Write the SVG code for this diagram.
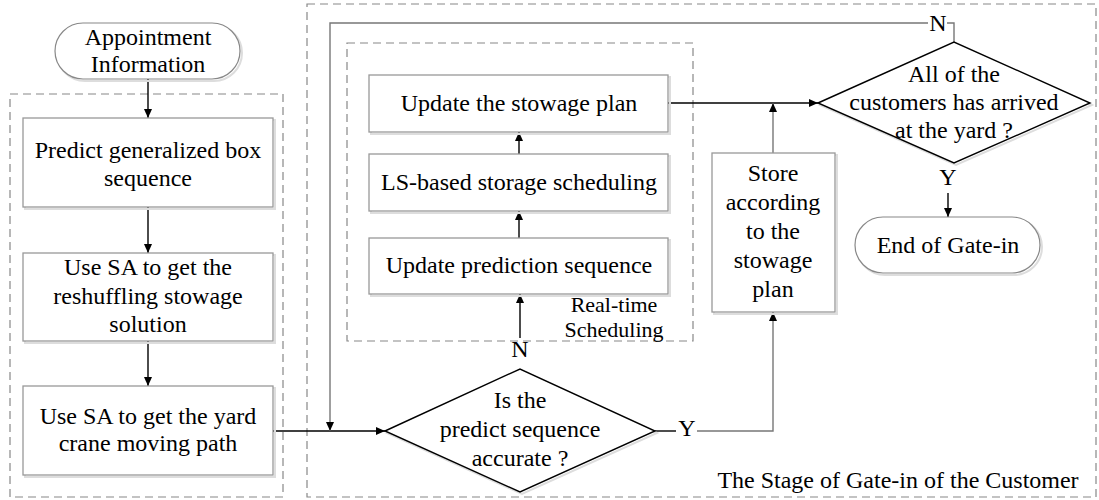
<svg xmlns="http://www.w3.org/2000/svg" width="1099" height="500" viewBox="0 0 1099 500">
<defs>
<marker id="ah" markerWidth="10" markerHeight="10" refX="9" refY="5" orient="auto" markerUnits="userSpaceOnUse">
<path d="M0,1 L9,5 L0,9 Z" fill="#000"/>
</marker>
</defs>
<style>
text{font-family:"Liberation Serif","Times New Roman",serif;font-size:24px;fill:#000;text-anchor:middle}
.box{fill:#fff;stroke:#999;stroke-width:1.3}
.term{fill:#fff;stroke:#888;stroke-width:1.2}
.dia{fill:#fff;stroke:#000;stroke-width:1.4}
.shd{fill:none;stroke:#ddd;stroke-width:2}
.dash{fill:none;stroke:#888;stroke-width:1.2;stroke-dasharray:8,5}
.c{fill:none;stroke:#000;stroke-width:1.4}
.g{fill:none;stroke:#777;stroke-width:1.4}
.sm{font-size:22px}
</style>
<g id="groups">
<rect class="dash" x="10" y="94" width="273" height="403"/>
<rect class="dash" x="307" y="4" width="789" height="493"/>
<rect class="dash" x="347" y="43" width="346" height="298"/>
</g>
<g id="connectors">
<line class="c" x1="148" y1="79" x2="148" y2="118" marker-end="url(#ah)"/>
<line class="c" x1="148" y1="207" x2="148" y2="253" marker-end="url(#ah)"/>
<line class="c" x1="148" y1="341" x2="148" y2="386" marker-end="url(#ah)"/>
<line class="c" x1="273" y1="431" x2="385" y2="431" marker-end="url(#ah)"/>
<path class="g" d="M954,42 V23 H947"/>
<path class="g" d="M928,23 H330 V431" marker-end="url(#ah)"/>
<line class="c" x1="520" y1="338" x2="520" y2="294" marker-end="url(#ah)"/>
<line class="c" x1="519" y1="238" x2="519" y2="211" marker-end="url(#ah)"/>
<line class="c" x1="519" y1="154" x2="519" y2="132" marker-end="url(#ah)"/>
<line class="c" x1="668" y1="103" x2="818" y2="103" marker-end="url(#ah)"/>
<line class="c" x1="655" y1="431" x2="676" y2="431"/>
<path class="g" d="M697,431 H773 V312" marker-end="url(#ah)"/>
<line class="g" x1="773" y1="153" x2="773" y2="103" marker-end="url(#ah)"/>
<line class="c" x1="948" y1="193" x2="948" y2="217" marker-end="url(#ah)"/>
</g>
<g id="appointment">
<rect class="shd" x="57" y="25" width="185" height="56" rx="28" ry="28"/>
<rect class="term" x="55" y="23" width="185" height="56" rx="28" ry="28"/>
<text x="148" y="45">Appointment</text>
<text x="148" y="72">Information</text>
</g>
<g id="predict">
<rect class="shd" x="25" y="120" width="250" height="89"/>
<rect class="box" x="23" y="118" width="250" height="89"/>
<text x="148" y="158">Predict generalized box</text>
<text x="148" y="186">sequence</text>
</g>
<g id="reshuffle">
<rect class="shd" x="25" y="255" width="250" height="88"/>
<rect class="box" x="23" y="253" width="250" height="88"/>
<text x="148" y="275">Use SA to get the</text>
<text x="148" y="304">reshuffling stowage</text>
<text x="148" y="332">solution</text>
</g>
<g id="yardcrane">
<rect class="shd" x="25" y="388" width="250" height="89"/>
<rect class="box" x="23" y="386" width="250" height="89"/>
<text x="148" y="424">Use SA to get the yard</text>
<text x="148" y="451">crane moving path</text>
</g>
<g id="update-plan">
<rect class="shd" x="371" y="77" width="299" height="57"/>
<rect class="box" x="369" y="75" width="299" height="57"/>
<text x="519" y="111">Update the stowage plan</text>
</g>
<g id="ls-sched">
<rect class="shd" x="371" y="156" width="299" height="57"/>
<rect class="box" x="369" y="154" width="299" height="57"/>
<text x="519" y="190">LS-based storage scheduling</text>
</g>
<g id="update-pred">
<rect class="shd" x="371" y="240" width="299" height="56"/>
<rect class="box" x="369" y="238" width="299" height="56"/>
<text x="519" y="273">Update prediction sequence</text>
</g>
<g id="realtime-label">
<text class="sm" x="614" y="312">Real-time</text>
<text class="sm" x="614" y="337">Scheduling</text>
</g>
<g id="accurate">
<polygon class="shd" points="387,433 522,371 657,433 522,494"/>
<polygon class="dia" points="385,431 520,369 655,431 520,492"/>
<text x="520" y="408">Is the</text>
<text x="520" y="437">predict sequence</text>
<text x="520" y="466">accurate ?</text>
<text x="520" y="357">N</text>
<text x="687" y="436">Y</text>
</g>
<g id="store">
<rect class="shd" x="714" y="155" width="123" height="159"/>
<rect class="box" x="712" y="153" width="123" height="159"/>
<text x="773" y="181">Store</text>
<text x="773" y="210">according</text>
<text x="773" y="239">to the</text>
<text x="773" y="268">stowage</text>
<text x="773" y="297">plan</text>
</g>
<g id="arrived">
<polygon class="shd" points="820,105 956,44 1092,105 956,165"/>
<polygon class="dia" points="818,103 954,42 1090,103 954,163"/>
<text x="954" y="82">All of the</text>
<text x="954" y="110">customers has arrived</text>
<text x="954" y="138">at the yard ?</text>
<text x="938" y="31">N</text>
<text x="948" y="185">Y</text>
</g>
<g id="end">
<rect class="shd" x="857" y="219" width="185" height="56" rx="28" ry="28"/>
<rect class="term" x="855" y="217" width="185" height="56" rx="28" ry="28"/>
<text x="948" y="253">End of Gate-in</text>
</g>
<g id="stage-label">
<text x="898" y="488">The Stage of Gate-in of the Customer</text>
</g>
</svg>
